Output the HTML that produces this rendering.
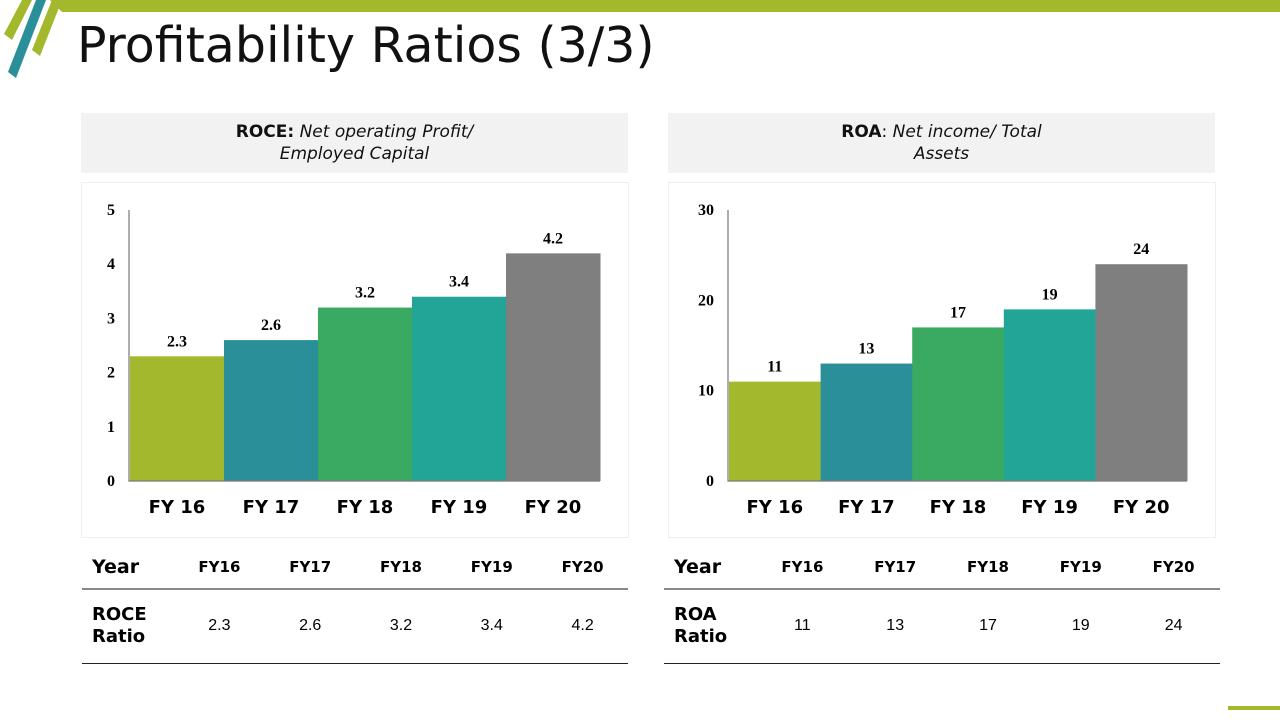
<!DOCTYPE html>
<html><head><meta charset="utf-8"><style>
body{margin:0;width:1280px;height:720px;background:#fff;position:relative;overflow:hidden;font-family:"Liberation Sans",sans-serif}
.abs{position:absolute}
.hdr{position:absolute;top:113px;height:60px;background:#f2f2f2;text-align:center;font-family:"DejaVu Sans",sans-serif;font-size:17px;line-height:22px;padding-top:8px;box-sizing:border-box;color:#111}
.box{position:absolute;top:182px;height:356px;border:1px solid #eee;box-sizing:border-box}
table{position:absolute;border-collapse:collapse;font-size:16px}
td{text-align:center;padding:0}
.th{font-family:"DejaVu Sans",sans-serif;font-weight:bold;font-size:15px}
</style></head><body>
<svg class="abs" style="left:0;top:0" width="1280" height="90">
<polygon points="50,0 1280,0 1280,12 62,12" fill="#a3b82c"/>
<polygon points="22,0 32,0 12,40 4,34" fill="#a3b82c"/>
<polygon points="36,0 46,0 16,78 8,72" fill="#2a8f99"/>
<polygon points="52,0 62,0 40,56 32,50" fill="#a3b82c"/>
</svg>
<svg class="abs" style="left:1228px;top:706px" width="52" height="4"><rect width="52" height="4" fill="#a3b82c"/></svg>
<div class="abs" style="left:77px;top:17px;font-family:'DejaVu Sans',sans-serif;font-size:49px;color:#111">Profitability Ratios (3/3)</div>

<div class="hdr" style="left:81px;width:547px"><b>ROCE:</b> <i>Net operating Profit/<br>Employed Capital</i></div>
<div class="hdr" style="left:668px;width:547px"><b>ROA</b>: <i>Net income/ Total<br>Assets</i></div>
<div class="box" style="left:81px;width:548px"></div>
<div class="box" style="left:668px;width:548px"></div>
<svg id="chart" class="abs" style="left:0;top:0" width="1280" height="540"></svg>

<table style="left:82px;top:545px;width:546px">
<tr style="height:44px;border-bottom:2px solid #888"><td style="text-align:left;padding-left:10px;font-size:19px;font-weight:bold;width:82px;font-family:'DejaVu Sans',sans-serif">Year</td><td class="th">FY16</td><td class="th">FY17</td><td class="th">FY18</td><td class="th">FY19</td><td class="th">FY20</td></tr>
<tr style="height:74px;border-bottom:1px solid #222"><td style="text-align:left;padding-left:10px;font-size:18px;font-weight:bold;line-height:22px;font-family:'DejaVu Sans',sans-serif">ROCE<br>Ratio</td><td>2.3</td><td>2.6</td><td>3.2</td><td>3.4</td><td>4.2</td></tr>
</table>
<table style="left:664px;top:545px;width:556px">
<tr style="height:44px;border-bottom:2px solid #888"><td style="text-align:left;padding-left:10px;font-size:19px;font-weight:bold;width:82px;font-family:'DejaVu Sans',sans-serif">Year</td><td class="th">FY16</td><td class="th">FY17</td><td class="th">FY18</td><td class="th">FY19</td><td class="th">FY20</td></tr>
<tr style="height:74px;border-bottom:1px solid #222"><td style="text-align:left;padding-left:10px;font-size:18px;font-weight:bold;line-height:22px;font-family:'DejaVu Sans',sans-serif">ROA<br>Ratio</td><td>11</td><td>13</td><td>17</td><td>19</td><td>24</td></tr>
</table>

<script>
const categories=["FY 16","FY 17","FY 18","FY 19","FY 20"];
const roceValues=[2.3,2.6,3.2,3.4,4.2];
const roaValues=[11,13,17,19,24];
const roceTicks=[0,1,2,3,4,5];
const roaTicks=[0,10,20,30];
const colors=["#a3b82c","#2a8f99","#3aaa62","#22a597","#7f7f7f"];
const svg=document.getElementById('chart');
const NS='http://www.w3.org/2000/svg';
function mk(t,a,txt){const e=document.createElementNS(NS,t);for(const k in a)e.setAttribute(k,a[k]);if(txt!=null)e.textContent=txt;svg.appendChild(e);return e;}
function draw(name,vals,ticks,x0,x1,max){
  const y0=481,yTop=210;
  const y=v=>y0-(v/max)*(y0-yTop);
  const bw=(x1-x0)/vals.length;
  ticks.forEach(t=>{const e=mk('text',{x:x0-15,y:y(t)+5,'text-anchor':'end','font-family':'Liberation Serif,serif','font-weight':'bold','font-size':16},t);
    
    });
  vals.forEach((v,i)=>{
    const r=mk('rect',{x:x0+i*bw,y:y(v),width:bw+0.5,height:y0-y(v),fill:colors[i]});
    
    
    const l=mk('text',{x:x0+(i+0.5)*bw,y:y(v)-10,'text-anchor':'middle','font-family':'Liberation Serif,serif','font-weight':'bold','font-size':16},v);
    
    
    const c=mk('text',{x:x0+(i+0.5)*bw,y:513,'text-anchor':'middle','font-family':'DejaVu Sans,sans-serif','font-weight':'bold','font-size':18},categories[i]);
    
    
  });
  const ax=mk('path',{d:`M${x0-1} ${yTop}V${y0}H${x1}`,stroke:'#777','stroke-width':1.2,fill:'none'});
  
  
}
draw('roce',roceValues,roceTicks,130,600,5);
draw('roa',roaValues,roaTicks,729,1187,30);
</script>
</body></html>
